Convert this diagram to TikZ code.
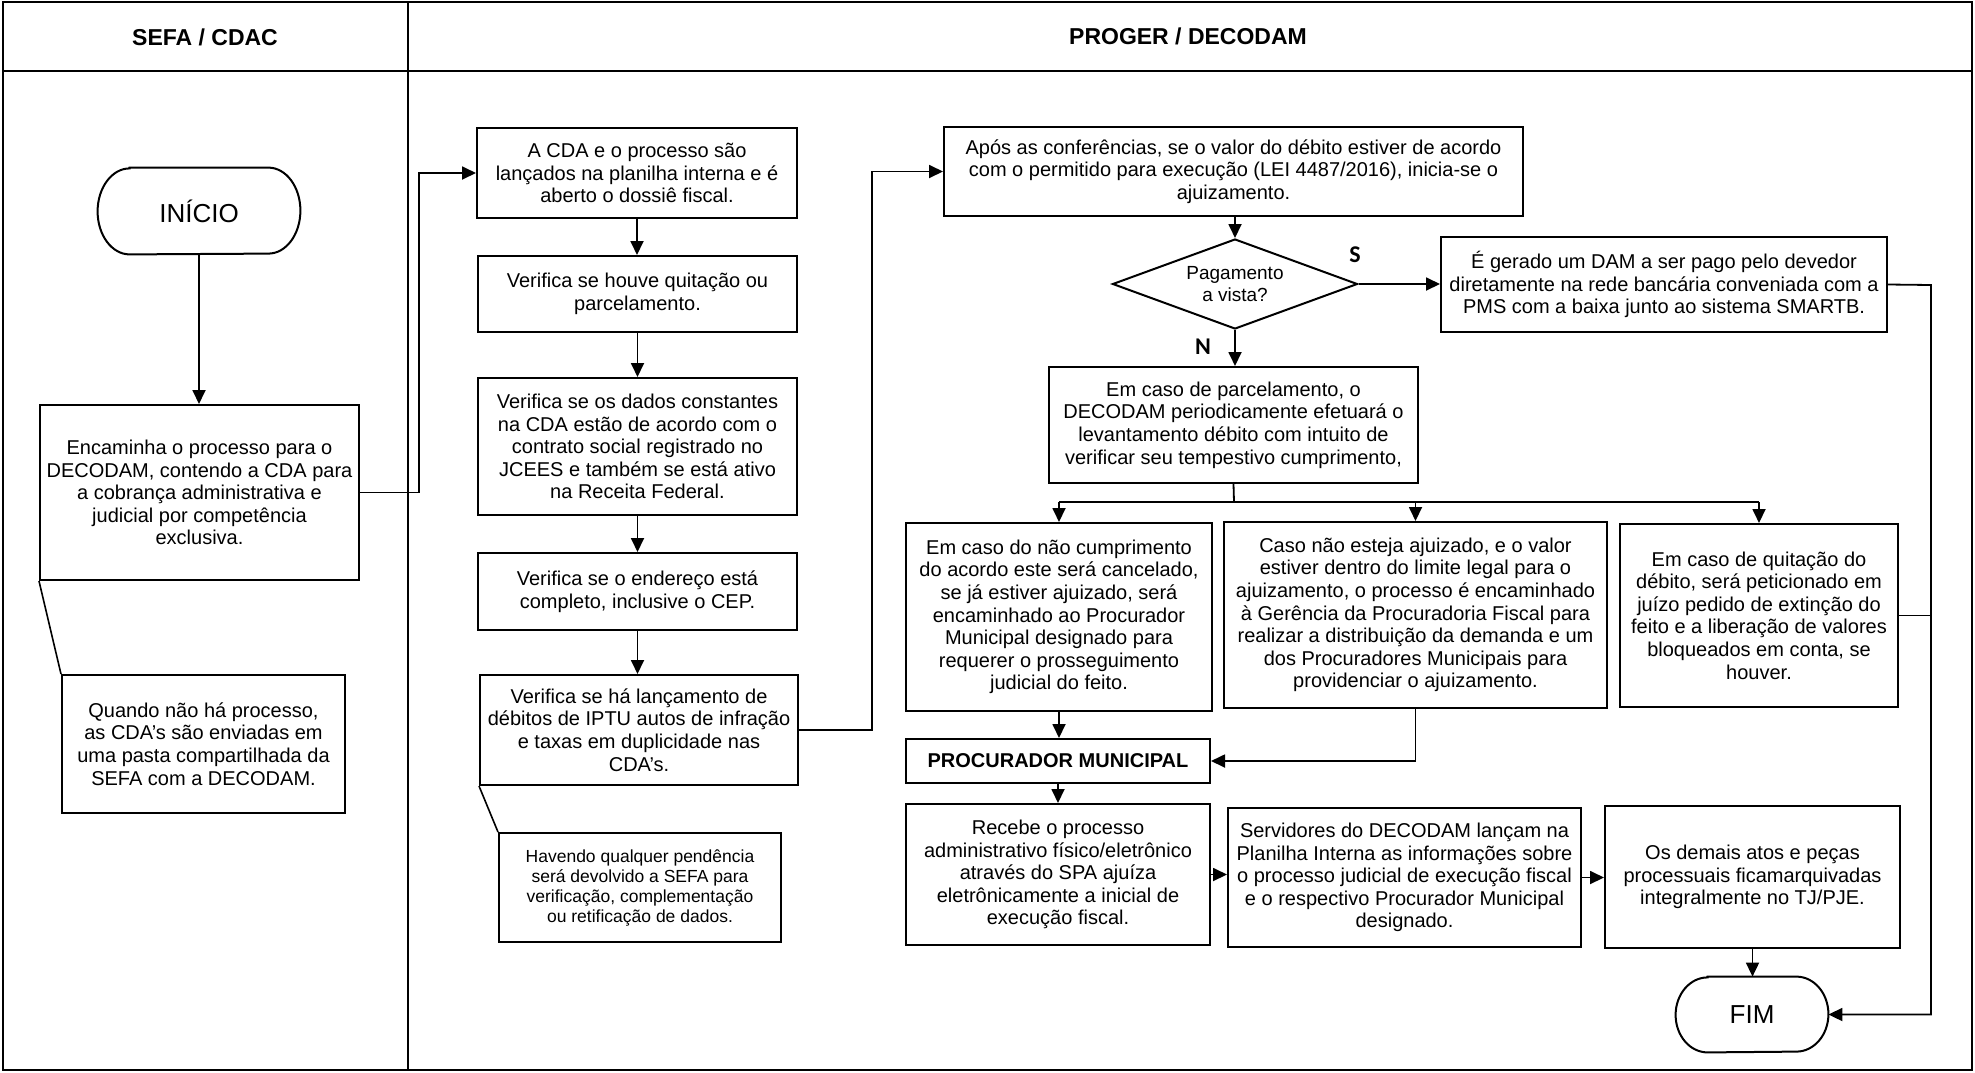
\documentclass[tikz,border=0pt]{standalone}
\usepackage{fontspec}
\setmainfont{Liberation Sans}
\newfontfamily\calibfont{Carlito}
\usetikzlibrary{shapes.geometric,arrows.meta}
\begin{document}
\begin{tikzpicture}[x=0.5pt,y=-0.5pt,
  box/.style={draw, line width=1pt, align=center, inner sep=0pt, font=\fontsize{10}{11.3}\selectfont},
  note/.style={draw, line width=1pt, align=center, inner sep=0pt, font=\fontsize{8.75}{10}\selectfont},
  term/.style={inner sep=0pt, font=\fontsize{13}{15}\selectfont},
  arr/.style={line width=0.9pt, -{Triangle[length=7pt,width=6.5pt]}},
  ln/.style={line width=0.9pt},
  ann/.style={line width=0.8pt},
  head/.style={font=\bfseries\fontsize{11.5}{13}\selectfont},
  yn/.style={font=\calibfont\bfseries\fontsize{12}{14}\selectfont},
]
\useasboundingbox (0,0) rectangle (1975,1072);
% frame and lanes
\draw[line width=1.2pt] (3,2) rectangle (1972,1070);
\draw[line width=1.2pt] (3,71) -- (1972,71);
\draw[line width=1.2pt] (408,2) -- (408,1070);
\node[head] (h1) at (205,37) {SEFA / CDAC};
\node[head] (h2) at (1188,36) {PROGER / DECODAM};

% SEFA lane
\node[term, minimum width=101pt, minimum height=43pt] (inicio) at (199,211) {INÍCIO};
\draw[line width=1pt] ([xshift=16pt]inicio.north west) -- ([xshift=-16pt]inicio.north east)
  arc[start angle=90,end angle=-90,x radius=16pt,y radius=21.5pt]
  -- ([xshift=16pt]inicio.south west)
  arc[start angle=270,end angle=90,x radius=16pt,y radius=21.5pt] -- cycle;
\node[box, minimum width=159.5pt, minimum height=87.5pt] (enc) at (199.5,492.5)
  {Encaminha o processo para o\\DECODAM, contendo a CDA para\\a cobrança administrativa e\\judicial por competência\\exclusiva.};
\node[box, minimum width=141.5pt, minimum height=69pt] (quando) at (203.5,744)
  {Quando não há processo,\\as CDA's são enviadas em\\uma pasta compartilhada da\\SEFA com a DECODAM.};

% PROGER column 1
\node[box, minimum width=160pt, minimum height=45pt] (cda) at (637,173)
  {A CDA e o processo são\\lançados na planilha interna e é\\aberto o dossiê fiscal.};
\node[box, minimum width=159.5pt, minimum height=38pt] (quit) at (637.5,294)
  {Verifica se houve quitação ou\\parcelamento.};
\node[box, minimum width=159.5pt, minimum height=68.5pt] (dados) at (637.5,446.5)
  {Verifica se os dados constantes\\na CDA estão de acordo com o\\contrato social registrado no\\JCEES e também se está ativo\\na Receita Federal.};
\node[box, minimum width=159.5pt, minimum height=38.5pt] (ender) at (637.5,591.5)
  {Verifica se o endereço está\\completo, inclusive o CEP.};
\node[box, minimum width=159pt, minimum height=55pt] (lanc) at (639,730)
  {Verifica se há lançamento de\\débitos de IPTU autos de infração\\e taxas em duplicidade nas\\CDA's.};
\node[note, minimum width=141pt, minimum height=54.5pt] (havendo) at (640,887.5)
  {Havendo qualquer pendência\\será devolvido a SEFA para\\verificação, complementação\\ou retificação de dados.};

% PROGER main flow
\node[box, minimum width=289.5pt, minimum height=44.5pt] (apos) at (1233.5,171.5)
  {Após as conferências, se o valor do débito estiver de acordo\\com o permitido para execução (LEI 4487/2016), inicia-se o\\ajuizamento.};
\node[draw, diamond, line width=1pt, aspect=2.7, inner sep=0pt, minimum width=122.5pt, minimum height=45pt,
  align=center, font=\fontsize{9.5}{11}\selectfont] (dec) at (1235,284) {Pagamento\\a vista?};
\node[yn] (slab) at (1355,255) {S};
\node[yn] (nlab) at (1203,347) {N};
\node[box, minimum width=223pt, minimum height=47.5pt] (dam) at (1664,284.5)
  {É gerado um DAM a ser pago pelo devedor\\diretamente na rede bancária conveniada com a\\PMS com a baixa junto ao sistema SMARTB.};
\node[box, minimum width=184.5pt, minimum height=58pt] (parc) at (1233.5,425)
  {Em caso de parcelamento, o\\DECODAM periodicamente efetuará o\\levantamento débito com intuito de\\verificar seu tempestivo cumprimento,};
\node[box, minimum width=153pt, minimum height=94pt] (boxA) at (1059,617)
  {Em caso do não cumprimento\\do acordo este será cancelado,\\se já estiver ajuizado, será\\encaminhado ao Procurador\\Municipal designado para\\requerer o prosseguimento\\judicial do feito.};
\node[box, minimum width=191.5pt, minimum height=93pt] (boxB) at (1415.5,615)
  {Caso não esteja ajuizado, e o valor\\estiver dentro do limite legal para o\\ajuizamento, o processo é encaminhado\\à Gerência da Procuradoria Fiscal para\\realizar a distribuição da demanda e um\\dos Procuradores Municipais para\\providenciar o ajuizamento.};
\node[box, minimum width=139pt, minimum height=91.5pt] (boxC) at (1759,615.5)
  {Em caso de quitação do\\débito, será peticionado em\\juízo pedido de extinção do\\feito e a liberação de valores\\bloqueados em conta, se\\houver.};
\node[box, font=\bfseries\fontsize{10}{12}\selectfont, minimum width=152pt, minimum height=22pt] (proc) at (1058,761)
  {PROCURADOR MUNICIPAL};
\node[box, minimum width=152pt, minimum height=70.5pt] (receb) at (1058,874.5)
  {Recebe o processo\\administrativo físico/eletrônico\\através do SPA ajuíza\\eletrônicamente a inicial de\\execução fiscal.};
\node[box, minimum width=176.5pt, minimum height=69.5pt] (serv) at (1404.5,877.5)
  {Servidores do DECODAM lançam na\\Planilha Interna as informações sobre\\o processo judicial de execução fiscal\\e o respectivo Procurador Municipal\\designado.};
\node[box, minimum width=147.5pt, minimum height=71pt] (demais) at (1752.5,877)
  {Os demais atos e peças\\processuais ficamarquivadas\\integralmente no TJ/PJE.};
\node[term, minimum width=76pt, minimum height=37.5pt] (fim) at (1752,1014.5) {FIM};
\draw[line width=1pt] ([xshift=16pt]fim.north west) -- ([xshift=-16pt]fim.north east)
  arc[start angle=90,end angle=-90,x radius=16pt,y radius=18.75pt]
  -- ([xshift=16pt]fim.south west)
  arc[start angle=270,end angle=90,x radius=16pt,y radius=18.75pt] -- cycle;

\coordinate (split) at (1234,502);
\coordinate (rv) at (1931,285);

% connectors
\draw[arr] (inicio.south) -- (inicio.south |- enc.north);
\draw[arr] (enc.east) -- ++(59,0) |- (cda.west);
\draw[ann] (enc.south west) -- (quando.north west);
\draw[arr] (cda.south) -- (cda.south |- quit.north);
\draw[arr] (quit.south) -- (quit.south |- dados.north);
\draw[arr] (dados.south) -- (dados.south |- ender.north);
\draw[arr] (ender.south) -- (ender.south |- lanc.north);
\draw[ann] (lanc.south west) -- (havendo.north west);
\draw[arr] (lanc.east) -- ++(73,0) |- (apos.west);
\draw[arr] (dec.north |- apos.south) -- (dec.north);
\draw[arr] (dec.east) -- (dec.east -| dam.west);
\draw[arr] (dec.south) -- (dec.south |- parc.north);
\draw[ln] (parc.south) -- (split);
\draw[ln] (boxA.north |- split) -- (boxC.north |- split);
\draw[arr] (boxA.north |- split) -- (boxA.north);
\draw[arr] (boxB.north |- split) -- (boxB.north);
\draw[arr] (boxC.north |- split) -- (boxC.north);
\draw[arr] (boxA.south) -- (boxA.south |- proc.north);
\draw[arr] (boxB.south) |- (proc.east);
\draw[arr] (proc.south) -- (proc.south |- receb.north);
\draw[arr] (receb.east) -- (receb.east -| serv.west);
\draw[arr] (serv.east) -- (serv.east -| demais.west);
\draw[arr] (demais.south) -- (demais.south |- fim.north);
\draw[arr] (dam.east) -- (rv) |- (fim.east);
\draw[ln] (boxC.east) -- (boxC.east -| rv);
\end{tikzpicture}
\end{document}
